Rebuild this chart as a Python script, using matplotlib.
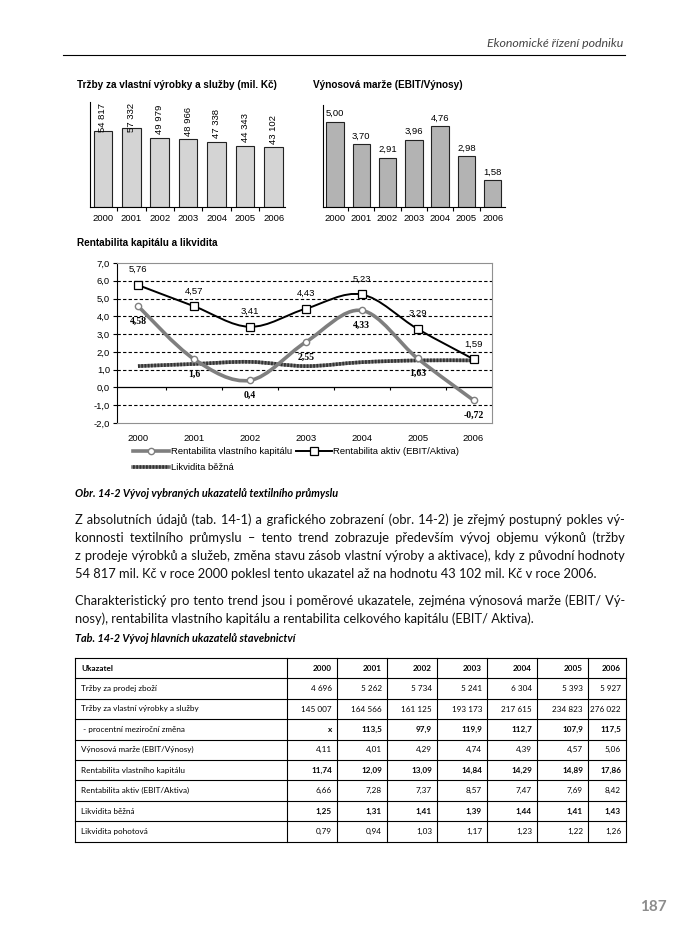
import matplotlib
matplotlib.use('Agg')
import matplotlib.pyplot as plt
import numpy as np
from matplotlib.path import Path
from matplotlib.patches import PathPatch
from matplotlib.lines import Line2D

W, H = 700, 944

# --- data -------------------------------------------------------------
years = ['2000', '2001', '2002', '2003', '2004', '2005', '2006']
trzby = [54817, 57332, 49979, 48966, 47338, 44343, 43102]
marze = [5.00, 3.70, 2.91, 3.96, 4.76, 2.98, 1.58]
roe = [4.58, 1.6, 0.4, 2.55, 4.33, 1.63, -0.72]
roa = [5.76, 4.57, 3.41, 4.43, 5.23, 3.29, 1.59]
likv = [1.2, 1.32, 1.44, 1.2, 1.42, 1.52, 1.52]

tab_rows = ['Tržby za prodej zboží',
            'Tržby za vlastní výrobky a služby',
            ' - procentní meziroční změna',
            'Výnosová marže (EBIT/Výnosy)',
            'Rentabilita vlastního kapitálu',
            'Rentabilita aktiv (EBIT/Aktiva)',
            'Likvidita běžná',
            'Likvidita pohotová']
tab_vals = [['4 696', '5 262', '5 734', '5 241', '6 304', '5 393', '5 927'],
            ['145 007', '164 566', '161 125', '193 173', '217 615', '234 823', '276 022'],
            ['x', '113,5', '97,9', '119,9', '112,7', '107,9', '117,5'],
            ['4,11', '4,01', '4,29', '4,74', '4,39', '4,57', '5,06'],
            ['11,74', '12,09', '13,09', '14,84', '14,29', '14,89', '17,86'],
            ['6,66', '7,28', '7,37', '8,57', '7,47', '7,69', '8,42'],
            ['1,25', '1,31', '1,41', '1,39', '1,44', '1,41', '1,43'],
            ['0,79', '0,94', '1,03', '1,17', '1,23', '1,22', '1,26']]
bold_rows = [2, 4, 6]

par1 = ['Z absolutních údajů (tab. 14-1) a grafického zobrazení (obr. 14-2) je zřejmý postupný pokles vý-',
        'konnosti textilního průmyslu – tento trend zobrazuje především vývoj objemu výkonů (tržby',
        'z prodeje výrobků a služeb, změna stavu zásob vlastní výroby a aktivace), kdy z původní hodnoty',
        '54 817 mil. Kč v roce 2000 poklesl tento ukazatel až na hodnotu 43 102 mil. Kč v roce 2006.']
par2 = ['Charakteristický pro tento trend jsou i poměrové ukazatele, zejména výnosová marže (EBIT/ Vý-',
        'nosy), rentabilita vlastního kapitálu a rentabilita celkového kapitálu (EBIT/ Aktiva).']

ARIAL = 'Liberation Sans'
BOOK = ['Lato', 'DejaVu Sans']

fig = plt.figure(figsize=(W / 100, H / 100), dpi=100)
renderer = fig.canvas.get_renderer()


def px_ax(l, t, r, b):
    return fig.add_axes([l / W, 1 - b / H, (r - l) / W, (b - t) / H])


def ftext(x, y, s, **kw):
    return fig.text(x / W, 1 - y / H, s, **kw)


def width_of(s, **kw):
    t = fig.text(0, 0, s, **kw)
    w = t.get_window_extent(renderer).width
    t.remove()
    return w


def fit_size(s, target, **kw):
    return 10 * target / width_of(s, fontsize=10, **kw)


def smooth_path(xs, ys):
    pts = np.column_stack([xs, ys]).astype(float)
    n = len(pts)
    verts = [pts[0]]
    codes = [Path.MOVETO]
    for i in range(n - 1):
        p0 = pts[i - 1] if i > 0 else pts[i]
        p1 = pts[i]
        p2 = pts[i + 1]
        p3 = pts[i + 2] if i + 2 < n else pts[i + 1]
        verts += [p1 + (p2 - p0) / 6, p2 - (p3 - p1) / 6, p2]
        codes += [Path.CURVE4] * 3
    return Path(verts, codes)


x = np.arange(len(years))

# --- page header ------------------------------------------------------
hs = fit_size('Ekonomické řízení podniku', 138, family=BOOK, style='italic')
ftext(623, 47, 'Ekonomické řízení podniku', family=BOOK, style='italic',
      fontsize=hs, color='#444444', ha='right', va='baseline')
fig.add_artist(Line2D([63 / W, 625 / W], [1 - 55 / H, 1 - 55 / H], color='k', lw=0.8))

# --- chart 1: trzby ---------------------------------------------------
ax1 = px_ax(90, 102, 285, 207)
ax1.bar(x, trzby, width=0.65, color='#d4d4d4', edgecolor='#222222', linewidth=0.8)
ax1.set_xlim(-0.45, 6.4)
ax1.set_ylim(0, 76000)
for i, v in enumerate(trzby):
    lbl = '{:,}'.format(v).replace(',', ' ')
    ax1.text(i, min(v + 2500, 54100), lbl, rotation=90, ha='center', va='bottom',
             fontsize=6.8, family=ARIAL)
ftext(77, 85, 'Tržby za vlastní výrobky a služby (mil. Kč)', family=ARIAL,
      fontweight='bold', fontsize=7.2, va='center')

# --- chart 2: marze ---------------------------------------------------
ax2 = px_ax(323, 105, 505, 207)
ax2.bar(x, marze, width=0.66, color='#b3b3b3', edgecolor='#222222', linewidth=0.8)
ax2.set_xlim(-0.46, 6.47)
ax2.set_ylim(0, 6)
for i, v in enumerate(marze):
    ax2.text(i, v + 0.22, ('%.2f' % v).replace('.', ','), ha='center', va='bottom',
             fontsize=6.8, family=ARIAL)
ftext(313, 85, 'Výnosová marže (EBIT/Výnosy)', family=ARIAL,
      fontweight='bold', fontsize=7.2, va='center')

for ax in (ax1, ax2):
    ax.spines['top'].set_visible(False)
    ax.spines['right'].set_visible(False)
    ax.spines['left'].set_linewidth(0.8)
    ax.spines['bottom'].set_linewidth(0.8)
    ax.set_yticks([])
    ax.set_xticks(x, years, fontsize=6.8, family=ARIAL)
    ax.set_xticks(x[:-1] + 0.5, minor=True)
    ax.tick_params(axis='x', which='major', length=0, pad=5)
    ax.tick_params(axis='x', which='minor', length=3, width=0.8, direction='out')

# --- chart 3: rentabilita --------------------------------------------
ftext(77, 243, 'Rentabilita kapitálu a likvidita', family=ARIAL,
      fontweight='bold', fontsize=7.2, va='center')
ax3 = px_ax(117, 263, 492, 423)
ax3.set_xlim(-0.375, 6.33)
ax3.set_ylim(-2, 7)
for gy in [-1, 1, 2, 3, 4, 5, 6]:
    ax3.axhline(gy, color='k', lw=0.8, ls=(0, (3, 2)), zorder=1)
ax3.axhline(0, color='k', lw=0.9, zorder=1)
ax3.vlines(x[:-1] + 0.5, -0.17, 0, color='k', lw=0.8, zorder=1)
for s in ('top', 'right', 'bottom'):
    ax3.spines[s].set_color('#909090')
    ax3.spines[s].set_linewidth(0.8)
ax3.spines['left'].set_linewidth(0.8)
yt = np.arange(-2, 8)
ax3.set_yticks(yt, [('%.1f' % v).replace('.', ',') for v in yt], fontsize=6.8, family=ARIAL)
ax3.tick_params(axis='y', length=3, width=0.8, pad=2)
ax3.set_xticks(x, years, fontsize=6.8, family=ARIAL)
ax3.tick_params(axis='x', length=0, pad=8)

ax3.add_patch(PathPatch(smooth_path(x, likv), fc='none', ec='#7a7a7a', lw=2.6, zorder=2))
ax3.add_patch(PathPatch(smooth_path(x, likv), fc='none', ec='#333333', lw=2.6,
                        ls=(0, (0.5, 0.4)), zorder=2))
ax3.add_patch(PathPatch(smooth_path(x, roe), fc='none', ec='#7f7f7f', lw=2.6, zorder=3))
ax3.add_patch(PathPatch(smooth_path(x, roa), fc='none', ec='k', lw=1.4, zorder=3))
ax3.plot(x, roe, 'o', ms=4.5, mfc='white', mec='#7f7f7f', mew=1.0, zorder=5)
ax3.plot(x, roa, 's', ms=5.5, mfc='white', mec='k', mew=0.9, zorder=5)
for i in range(len(x)):
    ax3.annotate(('%g' % roa[i]).replace('.', ','), (i, roa[i]), xytext=(0, 11),
                 textcoords='offset points', ha='center', va='center',
                 fontsize=6.8, family=ARIAL)
    ax3.annotate(('%g' % roe[i]).replace('.', ','), (i, roe[i]), xytext=(0, -11),
                 textcoords='offset points', ha='center', va='center',
                 fontsize=7, family='Liberation Serif', fontweight='bold')

h_roe = Line2D([], [], color='#7f7f7f', lw=2.6, marker='o', ms=4.5, mfc='white',
               mec='#7f7f7f', mew=1.0)
h_roa = Line2D([], [], color='k', lw=1.4, marker='s', ms=5.5, mfc='white', mec='k', mew=0.9)
h_lk1 = Line2D([], [], color='#7a7a7a', lw=2.6)
h_lk2 = Line2D([], [], color='#333333', lw=2.6, ls=(0, (0.5, 0.4)))
ax3.legend([h_roe, (h_lk1, h_lk2), h_roa],
           ['Rentabilita vlastního kapitálu', 'Likvidita běžná', 'Rentabilita aktiv (EBIT/Aktiva)'],
           ncol=2, loc='upper left', bbox_to_anchor=(133 / W, 1 - 447 / H),
           bbox_transform=fig.transFigure, frameon=False, numpoints=1,
           prop={'family': ARIAL, 'size': 6.8}, handlelength=3.8, handletextpad=0.2,
           columnspacing=0.4, borderpad=0, borderaxespad=0, labelspacing=0.75)

# --- captions and body text -------------------------------------------
cs = fit_size('Obr. 14-2 Vývoj vybraných ukazatelů textilního průmyslu', 264,
              family=BOOK, style='italic', fontweight='bold')
ftext(75, 497, 'Obr. 14-2 Vývoj vybraných ukazatelů textilního průmyslu', family=BOOK,
      style='italic', fontweight='bold', fontsize=cs, va='baseline')
ftext(75, 642, 'Tab. 14-2 Vývoj hlavních ukazatelů stavebnictví', family=BOOK,
      style='italic', fontweight='bold', fontsize=cs, va='baseline')

bs = fit_size(par1[3], 521, family=BOOK)

# justification: widen the word gaps with hair spaces, one text per line
HAIR = '\u200a'
hair_w = (width_of('a' + HAIR * 20 + 'a', family=BOOK, fontsize=bs)
          - width_of('aa', family=BOOK, fontsize=bs)) / 20
if hair_w < 0.2:
    HAIR = '\u2009'
    hair_w = (width_of('a' + HAIR * 20 + 'a', family=BOOK, fontsize=bs)
              - width_of('aa', family=BOOK, fontsize=bs)) / 20


def justified(s, target):
    words = s.split(' ')
    ng = len(words) - 1
    extra = (target - width_of(s, family=BOOK, fontsize=bs)) / hair_w
    if extra <= 0:
        return s
    out = words[0]
    for g in range(ng):
        k = int(round((g + 1) * extra / ng)) - int(round(g * extra / ng))
        out += ' ' + HAIR * k + words[g + 1]
    return out


def body_line(s, y, justify):
    txt = justified(s, 550) if justify else s
    ftext(75, y + 4, txt, family=BOOK, fontsize=bs, va='baseline', color='#111111')


for k, (s, y) in enumerate(zip(par1, [520, 538, 556, 574])):
    body_line(s, y, k < 3)
for k, (s, y) in enumerate(zip(par2, [601, 619])):
    body_line(s, y, k < 1)

# --- table ------------------------------------------------------------
col_edges = [75, 287, 337, 387, 437, 487, 537, 588, 626]
row_h = 20.4
top = 658
nrows = len(tab_rows) + 1
bottom = top + nrows * row_h
axt = px_ax(75, top, 626, bottom)
axt.set_xlim(75, 626)
axt.set_ylim(bottom, top)
axt.axis('off')
for k in range(nrows + 1):
    axt.plot([75, 626], [top + k * row_h] * 2, color='k', lw=0.8, clip_on=False)
for cx in col_edges:
    axt.plot([cx, cx], [top, bottom], color='k', lw=0.8, clip_on=False)

tsize = fit_size('Tržby za vlastní výrobky a služby', 116, family=BOOK)
yc = top + row_h / 2
axt.text(col_edges[0] + 6, yc, 'Ukazatel', family=BOOK, fontweight='bold',
         fontsize=tsize, ha='left', va='center')
for j, yr in enumerate(years):
    axt.text(col_edges[j + 2] - 5, yc, yr, family=BOOK, fontweight='bold',
             fontsize=tsize, ha='right', va='center')
for i, (name, vals) in enumerate(zip(tab_rows, tab_vals)):
    yc = top + (i + 1.5) * row_h
    axt.text(col_edges[0] + 6, yc, name, family=BOOK, fontsize=tsize,
             ha='left', va='center')
    fw = 'bold' if i in bold_rows else 'normal'
    for j, v in enumerate(vals):
        axt.text(col_edges[j + 2] - 5, yc, v, family=BOOK, fontweight=fw,
                 fontsize=tsize, ha='right', va='center')

# --- page number ------------------------------------------------------
ftext(653, 907, '187', family=BOOK, fontweight='bold', fontsize=11,
      color='#8c8c8c', ha='center', va='center')

fig.savefig('out.png', dpi=100)
